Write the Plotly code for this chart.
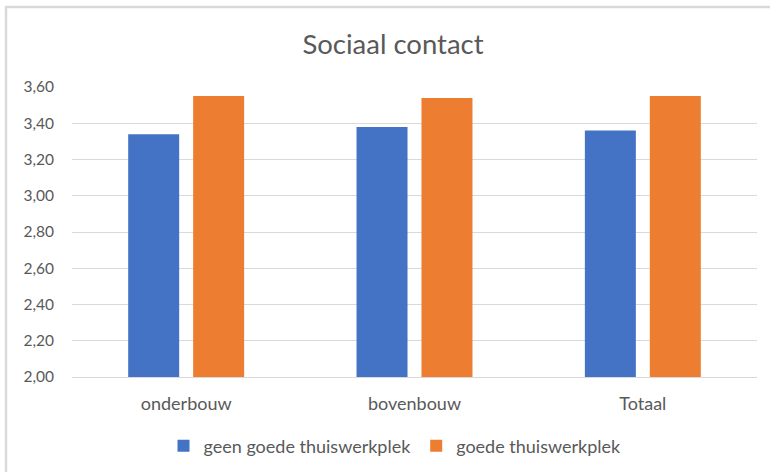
import plotly.graph_objects as go

categories = ["onderbouw", "bovenbouw", "Totaal"]
geen_goede = [3.34, 3.38, 3.36]
goede = [3.55, 3.54, 3.55]
series_names = ["geen goede thuiswerkplek", "goede thuiswerkplek"]
title_text = "Sociaal contact"

FONT = "Lato"
GRAY = "#595959"

fig = go.Figure()
fig.add_trace(go.Bar(x=categories, y=geen_goede, name=series_names[0],
                     marker=dict(color="#4472C4", line=dict(width=0))))
fig.add_trace(go.Bar(x=categories, y=goede, name=series_names[1],
                     marker=dict(color="#ED7D31", line=dict(width=0))))

L, R, T, B = 72, 13, 87, 95
W, H = 770, 472
pw, ph = W - L - R, H - T - B

def px_x(x):
    return (x - L) / pw

def px_y(y):
    return (H - B - y) / ph

fig.update_layout(
    width=W, height=H,
    margin=dict(l=L, r=R, t=T, b=B, autoexpand=False),
    paper_bgcolor="white", plot_bgcolor="white",
    separators=",.",
    font=dict(family=FONT, color=GRAY, size=15.5),
    title=dict(text=title_text, xref="container", yref="container",
               x=393 / W, xanchor="center",
               y=1 - 44 / H, yanchor="middle",
               font=dict(family=FONT, size=27.5, color=GRAY)),
    barmode="group", bargap=0.431, bargroupgap=0.215,
    showlegend=True,
    legend=dict(orientation="h", x=px_x(395), xanchor="center",
                y=px_y(446), yanchor="middle",
                font=dict(family=FONT, size=18, color=GRAY),
                itemwidth=30, traceorder="normal"),
    xaxis=dict(showgrid=False, showline=True, linecolor="#d9d9d9", linewidth=1,
               ticks="", tickfont=dict(size=18, color=GRAY), ticklabelstandoff=10),
    yaxis=dict(range=[2.0, 3.6], dtick=0.2, tick0=2.0, tickformat=".2f",
               showgrid=True, gridcolor="#d9d9d9", gridwidth=1,
               zeroline=False, showline=False, ticks="",
               tickfont=dict(size=15.5, color=GRAY), ticklabelstandoff=17),
    shapes=[dict(type="rect", xref="paper", yref="paper",
                 x0=px_x(6), x1=px_x(780), y0=px_y(485), y1=px_y(7),
                 line=dict(color="#d9d9d9", width=2.5), fillcolor="rgba(0,0,0,0)",
                 layer="below")],
)

fig.write_html("out.html", config={"displayModeBar": False},
               post_script="document.body.style.margin='0';")
